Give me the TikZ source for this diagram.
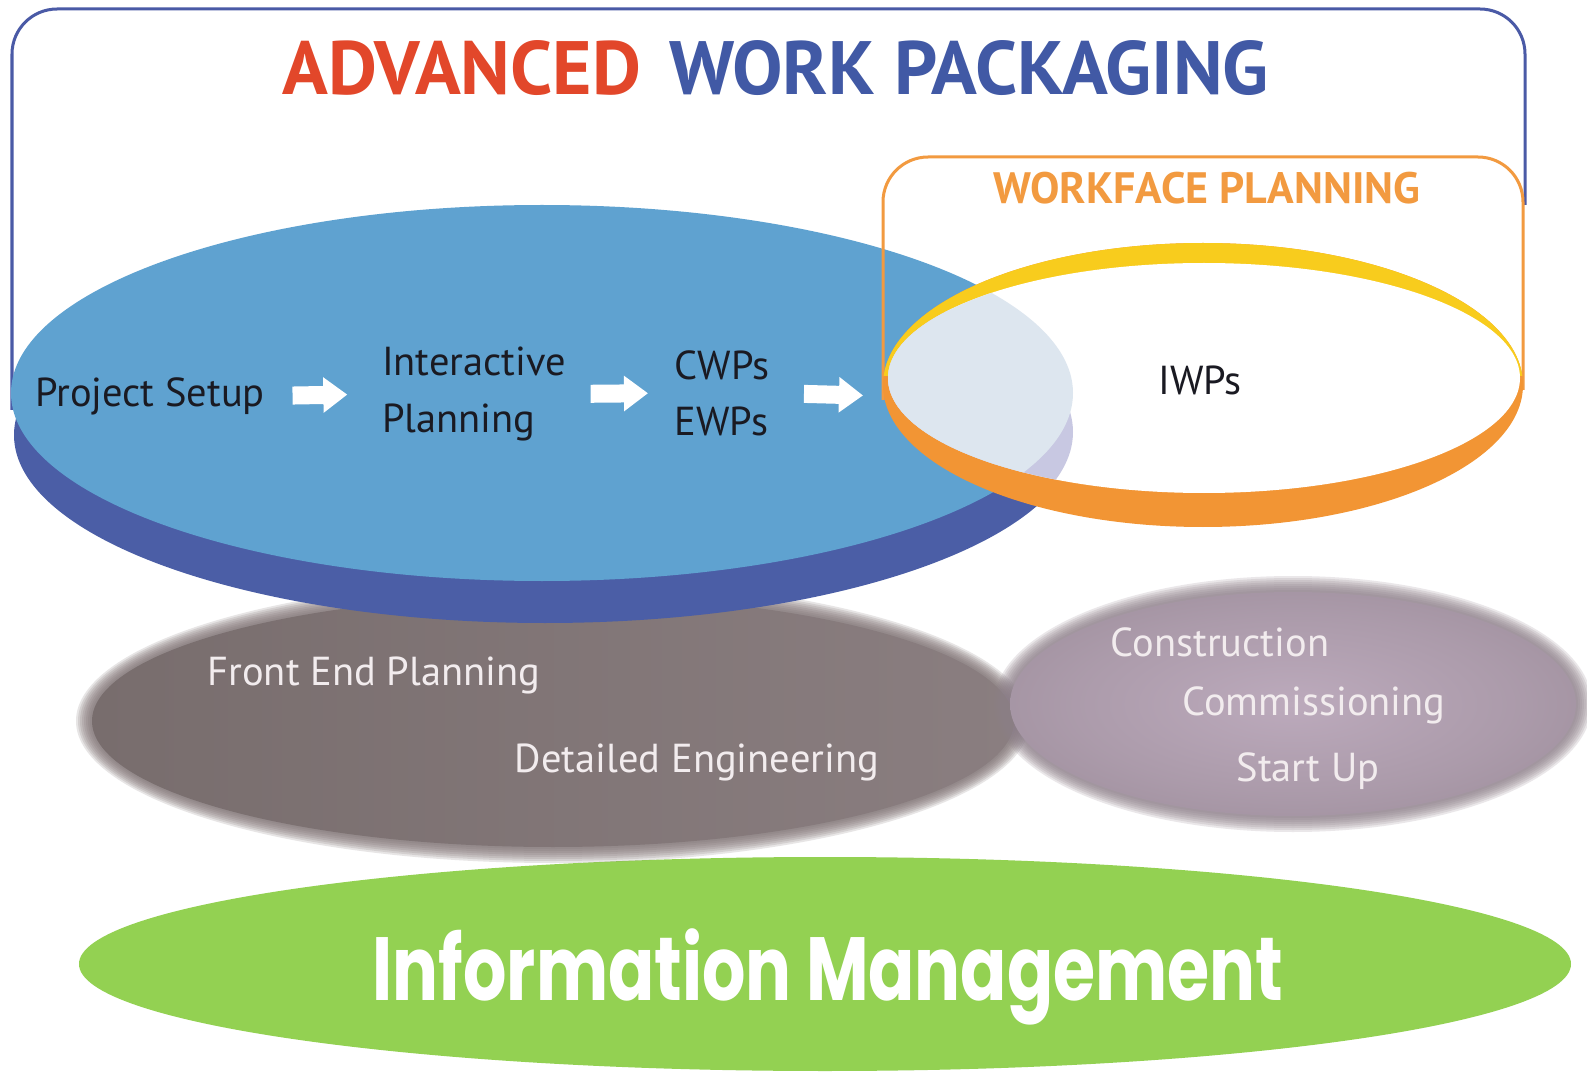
\documentclass[tikz,border=0pt]{standalone}
\usepackage{fontspec}
\setmainfont{PT Sans}
\newfontfamily\geofont{Poppins}
\usetikzlibrary{arrows.meta}
\definecolor{frameblue}{RGB}{74,90,166}
\definecolor{titlered}{RGB}{226,71,42}
\definecolor{titleblue}{RGB}{65,89,165}
\definecolor{ellblue}{RGB}{95,162,208}
\definecolor{ellside}{RGB}{75,94,166}
\definecolor{overlaplight}{RGB}{221,230,239}
\definecolor{overlapside}{RGB}{200,200,226}
\definecolor{ringyellow}{RGB}{248,204,29}
\definecolor{ringorange}{RGB}{242,149,52}
\definecolor{wforange}{RGB}{242,154,64}
\definecolor{darktext}{RGB}{26,26,34}
\definecolor{greytxt}{RGB}{242,236,238}
\definecolor{greyleftA}{RGB}{120,109,109}
\definecolor{greyleftB}{RGB}{138,126,128}
\definecolor{greyrin}{RGB}{188,170,188}
\definecolor{greyrout}{RGB}{140,126,137}
\definecolor{imgreen}{RGB}{147,209,82}
\pgfdeclareradialshading{phaseglow}{\pgfpoint{0bp}{0bp}}{color(0bp)=(greyrin); color(20bp)=(greyrin!65!greyrout); color(50bp)=(greyrout)}
\begin{document}
\begin{tikzpicture}[x=0.01cm, y=-0.01cm,
  bluetext/.style={inner sep=0, text=darktext, font=\fontsize{11.5}{16}\selectfont, align=left},
  greytext/.style={inner sep=0, text=greytxt, font=\fontsize{11.5}{14}\selectfont},
  titletext/.style={inner sep=0, font=\bfseries\fontsize{21.5}{24}\selectfont},
  flowarrow/.style={draw=white, line width=0.18cm, -{Triangle[width=0.34cm, length=0.24cm]}}]
\useasboundingbox (0,0) rectangle (1587,1073);
\fill[white] (0,0) rectangle (1587,1073);
% information management
\fill[imgreen] (825,964) ellipse [x radius=746, y radius=107];
\node[text=white, font=\geofont\bfseries\fontsize{25.5}{30}\selectfont] (info) at (828,977) {\scalebox{0.76}[1]{Information Management}};
% project phases
\foreach \d in {16,14,...,2} \fill[greyleftA!85!greyleftB, opacity=0.18] (553,721) ellipse [x radius=461+\d, y radius=126+\d];
\shade[left color=greyleftA, right color=greyleftB] (553,721) ellipse [x radius=461, y radius=126];
\foreach \d in {16,14,...,2} \fill[greyrout, opacity=0.18] (1293,704) ellipse [x radius=283+\d, y radius=112+\d];
\shade[shading=phaseglow] (1293,704) ellipse [x radius=283, y radius=112];
\node[greytext] (fep) at (374,675) {Front End Planning};
\node[greytext] (deng) at (697,762) {Detailed Engineering};
\node[greytext] (constr) at (1220,642) {Construction};
\node[greytext] (comm) at (1314,705) {Commissioning};
\node[greytext] (start) at (1308,771) {Start Up};
% advanced work packaging
\draw[frameblue, line width=0.03cm, rounded corners=0.45cm] (12,410) -- (12,9) -- (1525,9) -- (1525,205);
\node[titletext, text=titlered] (adv) at (462,68) {ADVANCED};
\node[titletext, text=titleblue] (wpk) at (969,68) {WORK PACKAGING};
\fill[ellside] (545,435) ellipse [x radius=531, y radius=188];
\fill[ellblue] (542,393) ellipse [x radius=531, y radius=188];
% workface planning
\draw[wforange, line width=0.03cm, rounded corners=0.45cm] (883,400) -- (883,157) -- (1523,157) -- (1523,390);
\node[inner sep=0, text=wforange, font=\bfseries\fontsize{12.5}{14}\selectfont] (wfp) at (1207,188) {WORKFACE PLANNING};
\fill[ringorange] (1203,385) ellipse [x radius=320, y radius=142];
\begin{scope}
\clip (860,230) rectangle (1540,376);
\fill[ringyellow] (1203,385) ellipse [x radius=320, y radius=142];
\end{scope}
\fill[white] (1204,378) ellipse [x radius=316, y radius=115];
\begin{scope}
\clip (1204,378) ellipse [x radius=316, y radius=115];
\fill[overlapside] (542,432) ellipse [x radius=531, y radius=188];
\fill[overlaplight] (542,393) ellipse [x radius=531, y radius=188];
\end{scope}
\coordinate (ringW) at (883,396);
% planning steps
\node[bluetext] (setup) at (150,396) {Project Setup};
\node[bluetext] (inter) at (474,394) {Interactive\\Planning};
\node[bluetext] (cwp) at (722,393) {CWPs\\EWPs};
\node[bluetext] (iwp) at (1200,380) {IWPs};
\draw[flowarrow, shorten <=0.27cm, shorten >=0.34cm] (setup.east) -- (inter.west);
\draw[flowarrow, shorten <=0.24cm, shorten >=0.26cm] (inter.east) -- (cwp.west);
\draw[flowarrow, shorten <=0.34cm, shorten >=0.2cm] (cwp.east) -- (ringW);
\end{tikzpicture}
\end{document}
